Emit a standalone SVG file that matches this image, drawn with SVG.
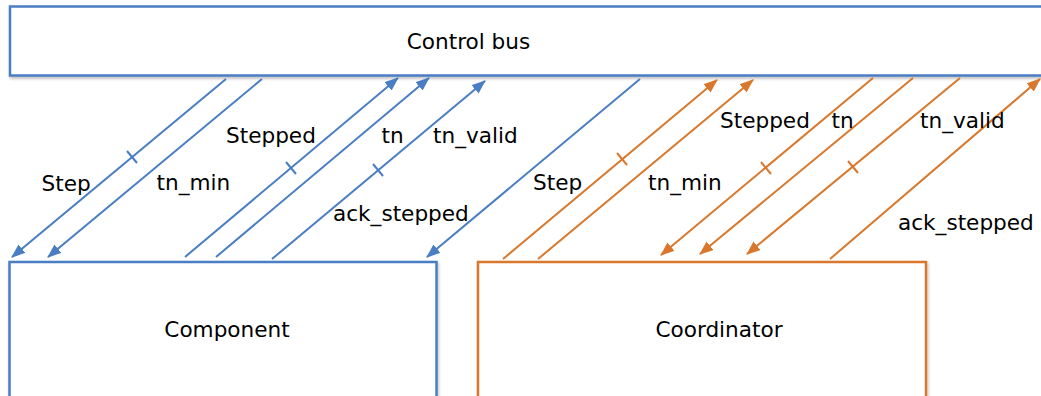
<svg xmlns="http://www.w3.org/2000/svg" width="1041" height="396" viewBox="0 0 1041 396">
<style>
text{font-family:"DejaVu Sans","Liberation Sans",sans-serif;font-size:21.6px;fill:#000}
.box{fill:#fff;stroke-width:2.5;filter:url(#sh)}
.b{stroke:#4a7ec4;stroke-width:2;fill:none}
.o{stroke:#d9782c;stroke-width:2;fill:none}
</style>
<defs>
<filter id="sh" x="-5%" y="-5%" width="110%" height="120%"><feDropShadow dx="1" dy="2" stdDeviation="1.5" flood-color="#000" flood-opacity="0.25"/></filter>
<marker id="ab" viewBox="0 0 14 11" refX="13" refY="5.5" markerWidth="14" markerHeight="11" markerUnits="userSpaceOnUse" orient="auto"><path d="M0,0 L14,5.5 L0,11 Z" fill="#4a7ec4"/></marker>
<marker id="ao" viewBox="0 0 14 11" refX="13" refY="5.5" markerWidth="14" markerHeight="11" markerUnits="userSpaceOnUse" orient="auto"><path d="M0,0 L14,5.5 L0,11 Z" fill="#d9782c"/></marker>
</defs>
<g id="bus"><rect class="box" x="10" y="6.5" width="1045" height="69" stroke="#4a7ec4"/><text x="468.5" y="48.5" text-anchor="middle">Control bus</text></g>
<g id="component"><rect class="box" x="9.5" y="262" width="427" height="200" stroke="#4a7ec4"/><text x="227" y="337" text-anchor="middle">Component</text></g>
<g id="coordinator"><rect class="box" x="478" y="262" width="448" height="200" stroke="#d9782c"/><text x="719" y="337" text-anchor="middle">Coordinator</text></g>
<g id="connectors">
<line class="b" x1="226" y1="79" x2="12" y2="257" marker-end="url(#ab)"/>
<line class="b" x1="262" y1="79" x2="48" y2="257" marker-end="url(#ab)"/>
<line class="b" x1="185" y1="257" x2="398" y2="78" marker-end="url(#ab)"/>
<line class="b" x1="216" y1="257" x2="429" y2="78" marker-end="url(#ab)"/>
<line class="b" x1="272" y1="259" x2="485" y2="81" marker-end="url(#ab)"/>
<line class="b" x1="640" y1="79" x2="427" y2="257" marker-end="url(#ab)"/>
<line class="b" x1="127" y1="151" x2="137" y2="163"/>
<line class="b" x1="286" y1="162" x2="296" y2="174"/>
<line class="b" x1="373" y1="164" x2="383" y2="176"/>
<line class="o" x1="503" y1="259" x2="717" y2="80" marker-end="url(#ao)"/>
<line class="o" x1="538" y1="259" x2="753" y2="80" marker-end="url(#ao)"/>
<line class="o" x1="873" y1="78" x2="661" y2="255" marker-end="url(#ao)"/>
<line class="o" x1="913" y1="78" x2="700" y2="254" marker-end="url(#ao)"/>
<line class="o" x1="960" y1="78" x2="747" y2="254" marker-end="url(#ao)"/>
<line class="o" x1="830" y1="259" x2="1040" y2="79" marker-end="url(#ao)"/>
<line class="o" x1="617" y1="153" x2="627" y2="165"/>
<line class="o" x1="761" y1="162" x2="771" y2="174"/>
<line class="o" x1="848" y1="161" x2="858" y2="173"/>
</g>
<g id="labels">
<text x="41.5" y="190.5">Step</text>
<text x="156.5" y="190">tn_min</text>
<text x="226" y="143">Stepped</text>
<text x="381.5" y="143">tn</text>
<text x="433" y="143">tn_valid</text>
<text x="333" y="221">ack_stepped</text>
<text x="533" y="190">Step</text>
<text x="648" y="190">tn_min</text>
<text x="720" y="128">Stepped</text>
<text x="831.5" y="128">tn</text>
<text x="920" y="128">tn_valid</text>
<text x="898" y="230">ack_stepped</text>
</g>
</svg>
